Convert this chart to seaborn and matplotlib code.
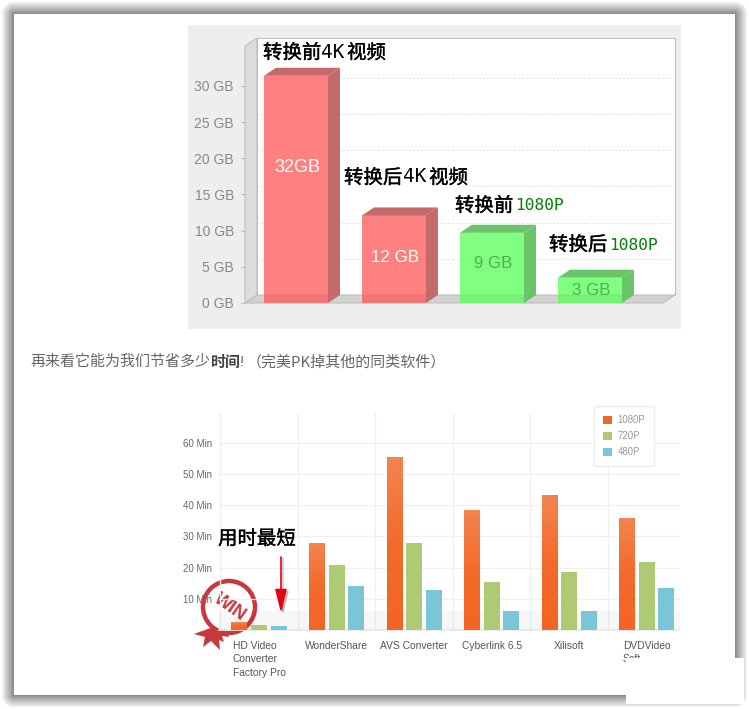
import numpy as np
import pandas as pd
import matplotlib
matplotlib.use('Agg')
import matplotlib.pyplot as plt
import matplotlib.patheffects as pe
import seaborn as sns
from matplotlib.colors import LinearSegmentedColormap
from matplotlib.patches import Circle, FancyArrowPatch, Polygon, Rectangle

W, H = 749, 709

# top chart
size_names = ['转换前4K视频', '转换后4K视频', '转换前1080P', '转换后1080P']
size_values = [31.4, 12.1, 9.7, 3.5]
size_labels = ['32GB', '12 GB', '9 GB', '3 GB']
size_ticks = [0, 5, 10, 15, 20, 25, 30]

# bottom chart
products = ['HD Video\nConverter\nFactory Pro', 'WonderShare', 'AVS Converter',
            'Cyberlink 6.5', 'Xilisoft', 'DVDVideo\nSoft']
min_1080 = [2.3, 27.6, 55.2, 38.3, 43.3, 35.8]
min_720 = [1.5, 20.7, 27.8, 15.4, 18.5, 21.8]
min_480 = [1.2, 14.0, 12.9, 6.0, 6.0, 13.4]
time_ticks = [10, 20, 30, 40, 50, 60]

sns.set_theme(style='white')
plt.rcParams['font.family'] = ['Liberation Sans', 'Noto Sans CJK SC']
CJK = ['Noto Sans CJK SC', 'DejaVu Sans']


def px_axes(fig, left, top, right, bottom):
    return fig.add_axes([left / W, 1 - bottom / H, (right - left) / W, (bottom - top) / H])


fig = plt.figure(figsize=(W / 100, H / 100), dpi=100, facecolor='white')

# page background with its shadow, and the grey panel behind the top chart
bg = fig.add_axes([0, 0, 1, 1], zorder=0)
xx, yy = np.meshgrid(np.arange(W) + 0.5, np.arange(H) + 0.5)
dx = np.maximum(np.maximum(14 - xx, xx - 735), 0)
dy = np.maximum(np.maximum(14 - yy, yy - 695), 0)
dist = np.hypot(dx, dy)
shade = np.where(dist > 0, 1 - 0.47 * np.clip(1 - dist / 13, 0, 1), 1)
bg.imshow(shade, cmap='gray', vmin=0, vmax=1, extent=(0, W, H, 0), aspect='auto')
bg.set_xlim(0, W)
bg.set_ylim(H, 0)
bg.axis('off')
bg.add_patch(Rectangle((188, 25), 493, 304, color='#eeeeee', lw=0))

# win stamp sits behind the bottom chart
stamp = '#c9383f'
bg.add_patch(Circle((229, 607), 26, fill=False, ec=stamp, lw=3.2))
bg.add_patch(Polygon([(213, 627), (227, 632), (229, 637), (222, 636), (224, 642), (219, 640),
                      (220, 650), (211, 641), (203, 647), (205, 637), (194, 634), (205, 630)],
                     color=stamp, lw=0))
bg.text(230, 607, 'WIN', color=stamp, fontsize=13, fontweight='bold', rotation=-35,
        ha='center', va='center')

# ---- top chart ----
ax = px_axes(fig, 245, 46, 663, 303)
ax.set_zorder(1)
ax.patch.set_visible(False)
sns.barplot(x=size_names, y=size_values, hue=size_names, ax=ax, width=0.653, saturation=1, linewidth=0,
            palette=['#ff5555', '#ff5555', '#55ff55', '#55ff55'], alpha=0.75, legend=False)
bars = [p for c in ax.containers for p in c]
ax.set_xlim(-0.52, 3.745)
ax.set_ylim(0, 257 / 7.235)
ox, oy = 12 / 98, 8 / 7.235  # depth of the fake 3d box
x0, x1 = ax.get_xlim()
y0, y1 = ax.get_ylim()
edge = '#bbbbbb'
ax.add_patch(Rectangle((x0 + ox, y0 + oy), x1 - x0, y1 - y0, fc='white', ec=edge, lw=0.7, zorder=0, clip_on=False))
ax.add_patch(Polygon([(x0, y0), (x0 + ox, y0 + oy), (x0 + ox, y1 + oy), (x0, y1)],
                     fc='#dcdedc', ec=edge, lw=0.7, zorder=0.2, clip_on=False))
ax.add_patch(Polygon([(x0, y0), (x0 + ox, y0 + oy), (x1 + ox, y0 + oy), (x1, y0)],
                     fc='#d2d2d0', ec=edge, lw=0.7, zorder=0.2, clip_on=False))
for t in size_ticks[1:]:
    ax.plot([x0 + ox, x1 + ox], [t + oy, t + oy], color='#e2e2e2', lw=0.7, ls=(0, (2, 2)), zorder=0.3, clip_on=False)
for bar in bars:
    bx, bw, bh = bar.get_x(), bar.get_width(), bar.get_height()
    dark = '#c46a6a' if bar.get_facecolor()[0] > 0.9 else '#6ac46a'
    ax.add_patch(Polygon([(bx + bw, 0), (bx + bw + ox, oy), (bx + bw + ox, bh + oy), (bx + bw, bh)],
                         fc=dark, lw=0, zorder=bar.get_zorder(), clip_on=False))
    ax.add_patch(Polygon([(bx, bh), (bx + ox, bh + oy), (bx + bw + ox, bh + oy), (bx + bw, bh)],
                         fc=dark, lw=0, zorder=bar.get_zorder(), clip_on=False))
for bar, text, y_pos, col in zip(bars, size_labels, [18.7, 6.3, 5.4, 1.66],
                                 ['white', 'white', '#4fb04f', '#4fb04f']):
    ax.text(bar.get_x() + bar.get_width() / 2 + 0.01, y_pos, text, color=col,
            fontsize=13 if text == '32GB' else 12.2, ha='center', va='center', zorder=6)
ax.set_yticks(size_ticks, [f'{t} GB' for t in size_ticks])
ax.set_xticks([])
ax.tick_params(axis='y', length=3, width=0.7, color=edge, pad=5, labelsize=10, labelcolor='#888888', left=True)
sns.despine(ax=ax, left=True, bottom=True, top=True, right=True)

# ---- bottom chart ----
times = pd.DataFrame({'product': products * 3,
                      'format': ['1080P'] * 6 + ['720P'] * 6 + ['480P'] * 6,
                      'minutes': min_1080 + min_720 + min_480})
ax2 = px_axes(fig, 219, 413, 680, 630)
ax2.set_zorder(1)
ax2.patch.set_visible(False)
sns.barplot(data=times, x='product', y='minutes', hue='format', ax=ax2, width=0.755, gap=0.18, linewidth=0,
            saturation=1, palette=['#f36523', '#aecb74', '#7ac5d8'], errorbar=None, zorder=3)
ax2.set_xlim(-0.516, 5.43)
ax2.set_ylim(0, 217 / 3.117)
xlim2, ylim2 = ax2.get_xlim(), ax2.get_ylim()
fade = LinearSegmentedColormap.from_list('fade', ['#f4844f', '#f36a2a', '#f36523'])
for bar in ax2.containers[0]:
    ax2.imshow(np.linspace(0, 1, 64).reshape(-1, 1), cmap=fade, aspect='auto', zorder=3.1,
               extent=(bar.get_x(), bar.get_x() + bar.get_width(), 0, bar.get_height()))
ax2.set_xlim(xlim2)
ax2.set_ylim(ylim2)
ax2.axhspan(0, 6, color='black', alpha=0.03, lw=0, zorder=1)
ax2.set_yticks(time_ticks, [f'{t} Min' for t in time_ticks])
ax2.set_xticks(np.arange(6) - 0.5, minor=True)
ax2.grid(True, which='major', axis='y', color='#f0f0f0', lw=0.9)
ax2.grid(True, which='minor', axis='x', color='#f0f0f0', lw=0.9)
ax2.set_axisbelow(True)
ax2.tick_params(axis='y', length=0, pad=5, labelsize=7, labelcolor='#666666')
ax2.tick_params(axis='x', which='both', length=0, pad=8, labelsize=7.4, labelcolor='#555555')
for lab in ax2.get_xticklabels():
    lab.set_multialignment('left')
    lab.set_linespacing(1.42)
ax2.set_xlabel('')
ax2.set_ylabel('')
for name, spine in ax2.spines.items():
    spine.set_visible(name == 'bottom')
ax2.spines['bottom'].set_color('#e8e8e8')
handles, labels = ax2.get_legend_handles_labels()
ax2.legend(handles, labels, loc='upper left', bbox_to_anchor=(594 / W, 1 - 406 / H), bbox_transform=fig.transFigure,
           fontsize=6.9, labelcolor='#999999', handlelength=0.9, handleheight=0.9, handletextpad=0.6,
           labelspacing=0.62, borderpad=0.95, borderaxespad=0, frameon=True, fancybox=True,
           facecolor='white', edgecolor='#ececec', framealpha=1).set_zorder(8)

# ---- everything pasted on top ----
top = fig.add_axes([0, 0, 1, 1], zorder=5)
top.patch.set_visible(False)
top.set_xlim(0, W)
top.set_ylim(H, 0)
top.axis('off')
box = dict(fc='white', ec='none', pad=0.5)
heavy = [pe.withStroke(linewidth=0.25, foreground='black')]
top.text(263, 53, '转换前', fontsize=14, family=CJK, color='black', va='center', path_effects=heavy)
top.text(321, 52, '4K', fontsize=14, family='DejaVu Sans Mono', color='black', va='center')
top.text(347, 53, '视频', fontsize=14, family=CJK, color='black', va='center', path_effects=heavy)
top.text(344, 178, '转换后', fontsize=14, family=CJK, color='black', va='center', bbox=box, path_effects=heavy)
top.text(403, 177, '4K', fontsize=14, family='DejaVu Sans Mono', color='black', va='center', bbox=box)
top.text(429, 178, '视频', fontsize=14, family=CJK, color='black', va='center', bbox=box, path_effects=heavy)
top.text(455, 206, '转换前', fontsize=14, family=CJK, color='black', va='center', bbox=box, path_effects=heavy)
top.text(515, 206, '1080P', fontsize=11.7, family='DejaVu Sans Mono', color='#008000', va='center', bbox=box)
top.text(549, 245, '转换后', fontsize=14, family=CJK, color='black', va='center', bbox=box, path_effects=heavy)
top.text(609, 245, '1080P', fontsize=11.7, family='DejaVu Sans Mono', color='#008000', va='center', bbox=box)
top.text(218, 539, '用时最短', fontsize=14, family=CJK, color='black', va='center', path_effects=heavy)

top.text(30, 362, '再来看它能为我们节省多少', fontsize=10.8, family=CJK, color='#666666', va='center')
top.text(210, 362, '时间', fontsize=10.8, family=CJK, color='#444444', fontweight='bold', va='center')
top.text(240, 362, '!', fontsize=10.8, color='#666666', va='center')
top.text(247, 362, '（完美PK掉其他的同类软件）', fontsize=10.8, family=CJK, color='#666666', va='center')

top.add_patch(FancyArrowPatch((283, 558), (283, 615), arrowstyle='-|>,head_length=1,head_width=0.25',
                              mutation_scale=14.4, color='#999999', lw=1.2, shrinkA=0, shrinkB=0, alpha=0.5))
top.add_patch(FancyArrowPatch((281, 557), (281, 613), arrowstyle='-|>,head_length=1,head_width=0.25',
                              mutation_scale=14.4, color='#e60012', lw=1.2, shrinkA=0, shrinkB=0))
# white block that hides the corner of the page
top.add_patch(Rectangle((626, 658), 118, 46, fc='white', ec='none'))

fig.savefig('out.png', dpi=100)
